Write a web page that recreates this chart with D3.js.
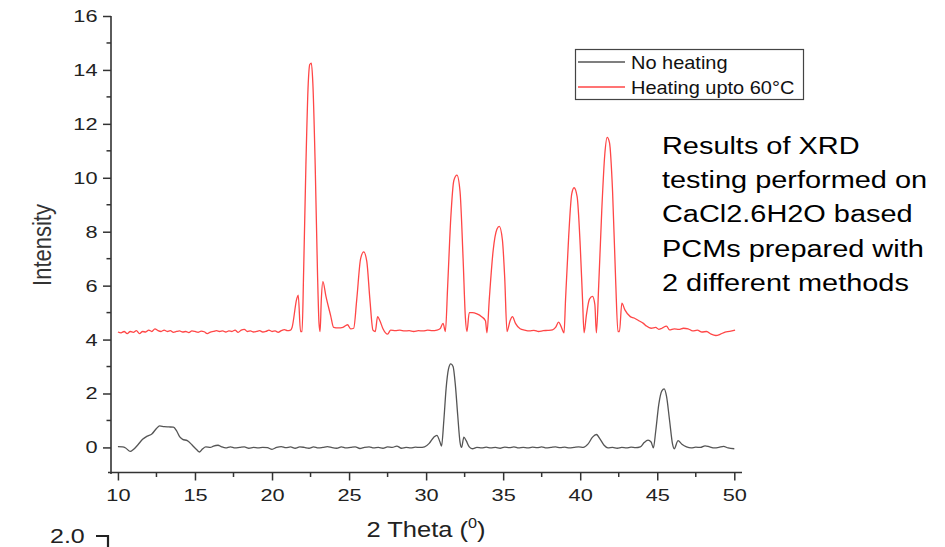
<!DOCTYPE html>
<html>
<head>
<meta charset="utf-8">
<script src="https://cdn.jsdelivr.net/npm/d3@7"></script>
<style>
  body { margin: 0; background: #fff; }
  svg { display: block; font-family: "Liberation Sans", Arial, sans-serif; }
</style>
</head>
<body>
<svg id="chart" width="945" height="547"></svg>
<script>
// Data: [2 theta, intensity]
var noHeating = [
  [10.0, 0.03], [10.3, 0.02], [10.5, -0.02], [10.8, -0.15], [11.0, -0.08], [11.3, 0.1],
  [11.6, 0.3], [11.9, 0.42], [12.2, 0.5], [12.5, 0.7], [12.7, 0.8], [13.0, 0.77],
  [13.3, 0.76], [13.6, 0.75], [13.8, 0.62], [14.0, 0.4], [14.2, 0.3], [14.5, 0.25],
  [14.8, 0.1], [15.1, -0.08], [15.3, -0.17], [15.5, -0.05], [15.7, 0.02], [16.0, 0.0],
  [16.2, 0.05], [16.5, 0.08], [16.7, 0.03], [17.0, -0.02], [17.3, 0.02], [17.6, -0.02],
  [17.9, 0.0], [18.2, 0.02], [18.5, -0.03], [18.8, 0.0], [19.1, -0.02], [19.4, 0.0],
  [19.7, -0.01], [20.0, -0.07], [20.3, 0.0], [20.6, 0.03], [20.9, -0.01], [21.2, 0.02],
  [21.5, -0.03], [21.8, 0.02], [22.1, 0.0], [22.4, -0.03], [22.7, 0.02], [23.0, -0.02],
  [23.3, 0.0], [23.6, 0.03], [23.9, -0.01], [24.2, -0.03], [24.5, 0.02], [24.8, -0.02],
  [25.1, 0.0], [25.4, 0.02], [25.7, -0.04], [26.0, 0.0], [26.3, 0.02], [26.6, -0.02],
  [26.9, 0.0], [27.2, -0.03], [27.5, 0.02], [27.8, 0.0], [28.1, 0.05], [28.4, -0.03],
  [28.7, 0.0], [29.0, -0.02], [29.3, 0.01], [29.6, 0.0], [29.9, 0.02], [30.2, 0.15],
  [30.5, 0.38], [30.7, 0.45], [30.9, 0.2], [31.0, 0.05], [31.15, 1.0], [31.3, 2.2],
  [31.45, 2.9], [31.6, 3.1], [31.75, 3.0], [31.9, 2.3], [32.05, 1.2], [32.2, 0.2],
  [32.3, 0.0], [32.45, 0.38], [32.6, 0.25], [32.8, 0.02], [33.0, -0.05], [33.3, 0.0],
  [33.6, -0.02], [33.9, 0.01], [34.2, -0.02], [34.5, 0.0], [34.8, -0.03], [35.1, 0.01],
  [35.4, -0.01], [35.7, 0.02], [36.0, -0.02], [36.3, 0.0], [36.6, -0.02], [36.9, 0.01],
  [37.2, -0.01], [37.5, 0.02], [37.8, -0.02], [38.1, 0.0], [38.4, 0.02], [38.7, -0.01],
  [39.0, 0.01], [39.3, -0.02], [39.6, 0.0], [39.9, 0.02], [40.2, 0.0], [40.5, 0.12],
  [40.8, 0.38], [41.05, 0.48], [41.3, 0.3], [41.55, 0.08], [41.8, -0.02], [42.1, 0.0],
  [42.4, -0.03], [42.7, 0.0], [43.0, -0.02], [43.3, 0.01], [43.6, -0.01], [43.9, 0.02],
  [44.15, 0.18], [44.4, 0.27], [44.6, 0.2], [44.75, -0.02], [44.9, 0.6], [45.1, 1.6],
  [45.3, 2.1], [45.45, 2.17], [45.6, 1.9], [45.8, 1.0], [46.0, 0.1], [46.1, -0.05],
  [46.35, 0.25], [46.6, 0.12], [46.9, 0.02], [47.2, -0.02], [47.5, 0.01], [47.8, 0.0],
  [48.1, 0.06], [48.4, 0.02], [48.7, -0.02], [49.0, 0.0], [49.3, 0.04], [49.6, -0.02],
  [50.0, -0.05]
];

var heating60 = [
  [10.0, 4.28], [10.2, 4.25], [10.4, 4.3], [10.6, 4.22], [10.8, 4.3], [11.0, 4.27],
  [11.2, 4.33], [11.4, 4.22], [11.6, 4.3], [11.8, 4.28], [12.0, 4.35], [12.2, 4.3],
  [12.4, 4.4], [12.6, 4.33], [12.8, 4.3], [13.0, 4.35], [13.2, 4.3], [13.4, 4.33],
  [13.6, 4.27], [13.8, 4.3], [14.0, 4.32], [14.2, 4.28], [14.4, 4.3], [14.6, 4.26],
  [14.8, 4.32], [15.0, 4.3], [15.2, 4.27], [15.4, 4.31], [15.6, 4.29], [15.8, 4.22],
  [16.0, 4.28], [16.2, 4.3], [16.4, 4.33], [16.6, 4.3], [16.8, 4.32], [17.0, 4.28],
  [17.2, 4.32], [17.4, 4.3], [17.6, 4.35], [17.8, 4.27], [18.0, 4.35], [18.2, 4.38],
  [18.4, 4.3], [18.6, 4.32], [18.8, 4.28], [19.0, 4.3], [19.2, 4.33], [19.4, 4.28],
  [19.6, 4.3], [19.8, 4.35], [20.0, 4.3], [20.2, 4.32], [20.4, 4.27], [20.6, 4.33],
  [20.8, 4.37], [21.0, 4.33], [21.2, 4.35], [21.3, 4.45], [21.6, 5.5], [21.7, 5.65],
  [21.85, 4.3], [21.95, 4.3], [22.05, 6.5], [22.2, 10.5], [22.35, 13.5], [22.45, 14.2],
  [22.55, 14.25], [22.65, 13.5], [22.8, 10.5], [22.95, 6.5], [23.05, 4.6], [23.12, 4.3],
  [23.2, 5.5], [23.3, 6.15], [23.5, 5.6], [23.8, 4.9], [24.0, 4.45], [24.3, 4.43],
  [24.6, 4.45], [24.9, 4.55], [25.1, 4.4], [25.3, 4.42], [25.5, 5.5], [25.75, 7.0],
  [25.95, 7.25], [26.15, 6.9], [26.35, 5.5], [26.55, 4.35], [26.7, 4.3], [26.85, 4.85],
  [27.0, 4.7], [27.2, 4.4], [27.5, 4.2], [27.7, 4.35], [28.0, 4.33], [28.3, 4.35],
  [28.6, 4.32], [28.9, 4.33], [29.2, 4.3], [29.5, 4.33], [29.8, 4.32], [30.1, 4.35],
  [30.4, 4.33], [30.7, 4.35], [30.9, 4.4], [31.1, 4.6], [31.25, 4.3], [31.4, 6.0],
  [31.6, 8.5], [31.8, 9.9], [32.0, 10.1], [32.2, 9.5], [32.4, 7.0], [32.55, 4.8],
  [32.65, 4.3], [32.8, 5.0], [33.0, 5.0], [33.3, 4.95], [33.6, 4.85], [33.85, 4.7],
  [33.95, 4.25], [34.1, 5.5], [34.35, 7.3], [34.6, 8.1], [34.75, 8.2], [34.95, 7.7],
  [35.1, 6.3], [35.25, 4.3], [35.45, 4.7], [35.6, 4.85], [35.8, 4.6], [36.1, 4.4],
  [36.4, 4.35], [36.7, 4.32], [37.0, 4.34], [37.3, 4.3], [37.6, 4.33], [37.9, 4.34],
  [38.2, 4.36], [38.4, 4.45], [38.6, 4.65], [38.75, 4.5], [38.95, 4.25], [39.05, 5.5],
  [39.25, 7.8], [39.45, 9.4], [39.6, 9.63], [39.8, 9.3], [40.0, 7.5], [40.15, 5.5],
  [40.25, 4.25], [40.4, 4.9], [40.6, 5.5], [40.8, 5.6], [40.95, 5.3], [41.05, 4.25],
  [41.2, 6.0], [41.4, 8.8], [41.6, 10.9], [41.75, 11.5], [41.9, 11.3], [42.1, 9.5],
  [42.3, 6.2], [42.45, 4.3], [42.55, 4.3], [42.7, 5.35], [42.9, 5.1], [43.25, 4.85],
  [43.5, 4.8], [43.8, 4.7], [44.1, 4.6], [44.3, 4.5], [44.6, 4.42], [44.9, 4.45],
  [45.1, 4.38], [45.3, 4.42], [45.6, 4.5], [45.8, 4.36], [46.1, 4.4], [46.4, 4.38],
  [46.7, 4.42], [47.0, 4.4], [47.3, 4.32], [47.6, 4.35], [47.9, 4.28], [48.2, 4.3],
  [48.5, 4.2], [48.8, 4.15], [49.1, 4.2], [49.4, 4.28], [49.7, 4.3], [50.05, 4.35]
];

var xTicks = [10, 15, 20, 25, 30, 35, 40, 45, 50];
var xMinor = [12.5, 17.5, 22.5, 27.5, 32.5, 37.5, 42.5, 47.5];
var yTicks = [0, 2, 4, 6, 8, 10, 12, 14, 16];
var yMinor = [1, 3, 5, 7, 9, 11, 13, 15];
var seriesNames = ['No heating', 'Heating upto 60\u00b0C'];
var seriesColors = ['#555555', '#ff4646'];
var noteLines = ['Results of XRD', 'testing performed on', 'CaCl2.6H2O based',
                 'PCMs prepared with', '2 different methods'];

var svg = d3.select('#chart');

var x = d3.scaleLinear().domain([9.55, 50.5]).range([111, 742]);
var y = d3.scaleLinear().domain([-0.93, 16]).range([472.5, 16]);

// the source picture is stretched sideways, so text is widened a bit
function wideText(g, px, py, sx, size) {
    return g.append('text').attr('transform', `translate(${px},${py}) scale(${sx},1)`)
        .style('font-size', size + 'px');
}

// axes
var axisColor = '#333';
var xAxis = svg.append('g').attr('transform', 'translate(0,472.5)');
xAxis.call(d3.axisBottom(x).tickValues(xTicks).tickSize(8).tickPadding(4).tickFormat(d3.format('d')));
xAxis.append('g').selectAll('line').data(xMinor).join('line')
    .attr('x1', (d) => x(d)).attr('x2', (d) => x(d)).attr('y1', 0).attr('y2', 4.5);

var yAxis = svg.append('g').attr('transform', 'translate(111,0)');
yAxis.call(d3.axisLeft(y).tickValues(yTicks).tickSize(8).tickPadding(5).tickFormat(d3.format('d')));
yAxis.append('g').selectAll('line').data(yMinor).join('line')
    .attr('x1', 0).attr('x2', -4.5).attr('y1', (d) => y(d)).attr('y2', (d) => y(d));

[xAxis, yAxis].forEach((g) => {
    g.select('.domain').remove();
    g.selectAll('line').attr('stroke', axisColor).attr('stroke-width', 1.5);
    g.selectAll('text').attr('fill', '#222').style('font-size', '17px')
        .style('font-family', '"Liberation Sans", Arial, sans-serif')
        .attr('transform', 'scale(1.28,1)');
});
xAxis.selectAll('.tick text').attr('dy', '0.98em');
yAxis.selectAll('.tick text').attr('x', -10.5);

svg.append('line').attr('x1', 108).attr('x2', 742).attr('y1', 472.5).attr('y2', 472.5)
    .attr('stroke', axisColor).attr('stroke-width', 1.6);
svg.append('line').attr('x1', 111).attr('x2', 111).attr('y1', 16).attr('y2', 474)
    .attr('stroke', axisColor).attr('stroke-width', 1.6);

// series
var line = d3.line().x((d) => x(d[0])).y((d) => y(d[1])).curve(d3.curveMonotoneX);
[noHeating, heating60].forEach((s, i) => {
    svg.append('path').datum(s).attr('d', line)
        .attr('fill', 'none').attr('stroke', seriesColors[i]).attr('stroke-width', 1.3);
});

// axis titles
svg.append('text').attr('transform', 'translate(51,245) rotate(-90) scale(1,1.2)')
    .attr('text-anchor', 'middle').style('font-size', '22px').attr('fill', '#333')
    .text('Intensity');
var xt = wideText(svg, 426, 537, 1.16, 22).attr('text-anchor', 'middle').attr('fill', '#222');
xt.append('tspan').text('2 Theta (');
xt.append('tspan').attr('dy', -9).style('font-size', '14px').text('0');
xt.append('tspan').attr('dy', 9).text(')');

// legend
var legend = svg.append('g');
legend.append('rect').attr('x', 575.5).attr('y', 49.5).attr('width', 228).attr('height', 50)
    .attr('fill', '#fff').attr('stroke', '#444').attr('stroke-width', 1.2);
seriesNames.forEach((name, i) => {
    var ly = 62 + i * 25;
    legend.append('line').attr('x1', 578).attr('x2', 625).attr('y1', ly).attr('y2', ly)
        .attr('stroke', seriesColors[i]).attr('stroke-width', 1.5);
    wideText(legend, 631, ly + 6.5, 1.11, 18).attr('fill', '#111').text(name);
});

// side note
noteLines.forEach((d, i) => {
    wideText(svg, 662, 154 + i * 34.2, 1.18, 24.5).attr('fill', '#000').text(d);
});

// cut-off piece of another chart below
wideText(svg, 50, 543, 1.25, 20).attr('fill', '#222').text('2.0');
svg.append('path').attr('d', 'M96,536H108V547').attr('fill', 'none')
    .attr('stroke', '#222').attr('stroke-width', 2.2);
</script>
</body>
</html>
